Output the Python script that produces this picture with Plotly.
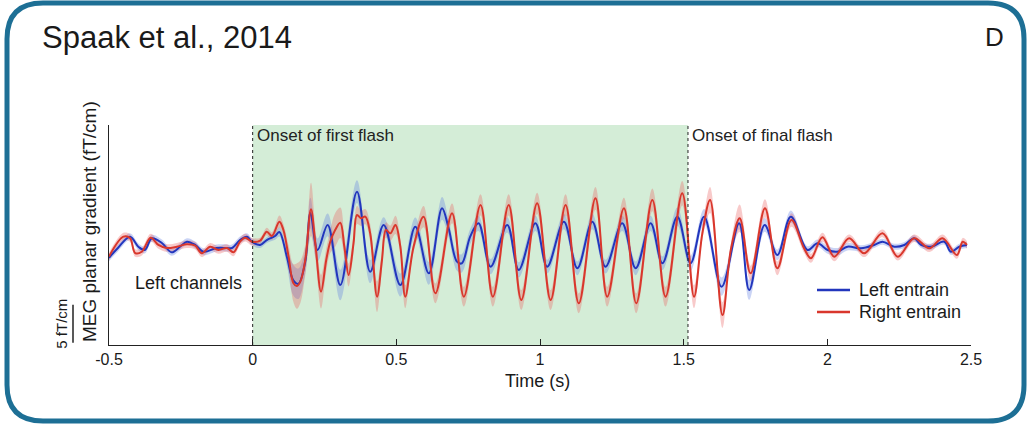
import plotly.graph_objects as go
import numpy as np

# ---------------- data (time in s, amplitude in fT/cm) ----------------
time_left = [-0.500, -0.469, -0.427, -0.398, -0.375, -0.351, -0.316, -0.282, -0.253, -0.229,
             -0.200, -0.171, -0.125, -0.090, -0.072, -0.044, -0.020, -0.003,
             0.026, 0.049, 0.078, 0.093, 0.119, 0.141, 0.159, 0.183, 0.201, 0.226,
             0.261, 0.305, 0.363, 0.409, 0.456, 0.514,
             0.566, 0.613, 0.659, 0.682, 0.711, 0.728, 0.757, 0.786, 0.828, 0.886,
             0.926, 0.984, 1.025, 1.083, 1.130, 1.182, 1.228, 1.286, 1.333, 1.385,
             1.426, 1.478, 1.524,
             1.571, 1.632, 1.693, 1.728, 1.782, 1.826, 1.873, 1.931, 1.966, 2.001,
             2.036, 2.070, 2.117, 2.163, 2.192, 2.233, 2.268, 2.302, 2.326, 2.361,
             2.407, 2.430, 2.459, 2.486]
left_mean = [-2.07, -0.79, 0.70, -0.62, -1.05, 0.49, -0.13, -1.36, -0.62, 0.04,
             -0.39, -1.28, -0.79, -0.79, -0.79, 0.26, 0.70, 0.04,
             -0.39, 0.26, 0.79, 1.32, -1.93, -5.00, -5.50, -2.60, 3.82, -1.05,
             2.24, -5.66, 6.62, -3.91, 2.24, -5.66,
             2.01, -4.12, 4.43, 1.80, -2.59, -2.80, 0.70, 2.46, -3.25, 2.24,
             -3.68, 2.46, -3.25, 2.67, -3.46, 2.67, -3.25, 2.46, -3.46, 2.46,
             -2.80, 3.33, -2.80,
             3.33, -5.88, 2.46, -6.32, 2.24, -1.71, 3.33, -1.05, -0.17, -1.05,
             -1.28, -0.62, -0.83, -0.39, 0.04, -0.62, -0.39, 0.49, -0.39, -0.62,
             0.04, -1.28, -0.62, -0.39]
left_sem = [0.45] * 18 + \
           [0.4, 0.4, 0.5, 0.6, 1.2, 2.0, 2.0, 1.5, 2.0, 1.5,
            1.5, 2.0, 1.5, 1.5, 1.0, 1.5] + \
           [1.2, 1.5, 1.5, 1.2, 1.2, 1.2, 1.0, 1.0, 1.0, 1.0,
            1.0, 1.0, 0.9, 1.0, 0.9, 1.0, 0.9, 1.0, 0.9, 1.0,
            0.9, 1.2, 1.0] + \
           [1.0, 1.2, 0.8, 1.3, 0.9, 0.7, 0.8, 0.5, 0.5, 0.5,
            0.5, 0.5, 0.4, 0.4, 0.4, 0.4, 0.4, 0.4, 0.4, 0.4,
            0.4, 0.4, 0.4, 0.4]

time_right = [-0.500, -0.450, -0.427, -0.409, -0.386, -0.355, -0.328, -0.299, -0.264, -0.229,
              -0.200, -0.177, -0.148, -0.119, -0.090, -0.067, -0.044, -0.026, -0.003,
              0.026, 0.049, 0.067, 0.093, 0.107, 0.125, 0.142, 0.154, 0.166, 0.183,
              0.203, 0.218, 0.238, 0.256, 0.270, 0.287, 0.305, 0.319, 0.334, 0.351,
              0.363, 0.377, 0.392, 0.409, 0.433, 0.450, 0.464, 0.479, 0.497, 0.514,
              0.531,
              0.560, 0.595, 0.636, 0.694, 0.735, 0.793, 0.836, 0.891, 0.935, 0.990,
              1.037, 1.089, 1.135, 1.193, 1.234, 1.292, 1.335, 1.391, 1.437, 1.495,
              1.536,
              1.565, 1.592, 1.635, 1.664, 1.695, 1.733, 1.783, 1.826, 1.875, 1.919,
              1.943, 1.983, 2.024, 2.076, 2.128, 2.192, 2.245, 2.302, 2.355, 2.401,
              2.451, 2.471, 2.486]
right_mean = [-1.90, 0.70, 0.53, -1.45, -1.28, 0.57, -0.39, -0.79, -0.62, -0.30,
              -0.49, -1.49, -0.62, -1.05, -0.79, -1.36, 0.04, 0.57, 0.04,
              0.17, 1.36, 0.79, 2.67, 1.58, -1.93, -5.43, -5.79, -5.22, -2.37,
              4.30, -0.17, -6.54, -2.37, 0.04, 1.58, 2.54, -0.62, -4.34, -0.17,
              3.55, 3.12, 3.33, 1.14, -7.20, -2.37, 1.58, 1.14, 2.24, -0.62,
              -7.20,
              -0.62, 3.33, -6.75, 3.78, -7.20, 4.87, -7.20, 4.87, -7.63, 5.09,
              -7.63, 4.87, -8.07, 5.75, -7.20, 4.43, -8.07, 5.53, -7.20, 6.41,
              -7.20,
              1.14, 5.53, -9.61, -1.05, 3.12, -4.12, 4.43, -3.46, 2.89, -0.83,
              -2.14, 0.62, -1.93, 0.49, -1.49, 1.14, -1.93, 0.49, -0.83, 0.49,
              -1.71, 0.04, -0.39]
right_sem = [0.5] * 19 + \
            [0.4, 0.5, 0.5, 0.8, 0.8, 1.5, 2.5, 3.0, 2.8, 2.0,
             3.5, 2.0, 2.2, 1.5, 1.5, 2.2, 2.0, 1.5, 1.5, 1.2,
             1.2, 1.0, 1.0, 1.2, 2.0, 1.2, 1.0, 1.0, 1.2, 1.0,
             1.5] + \
            [0.7, 1.4, 1.3, 1.3, 1.3, 1.4, 1.3, 1.4, 1.3, 1.4,
             1.3, 1.4, 1.3, 1.5, 1.3, 1.4, 1.3, 1.5, 1.3, 1.6,
             1.5] + \
            [0.8, 1.7, 1.7, 0.8, 1.8, 1.0, 1.2, 0.9, 0.9, 0.6,
             0.6, 0.6, 0.6, 0.5, 0.5, 0.5, 0.5, 0.5, 0.5, 0.5,
             0.5, 0.5, 0.5]

series_names = ["Left entrain", "Right entrain"]
first_flash = 0.0
final_flash = 1.515
x_ticks = [-0.5, 0, 0.5, 1, 1.5, 2, 2.5]
x_tick_labels = ["-0.5", "0", "0.5", "1", "1.5", "2", "2.5"]
scale_bar = 5  # fT/cm

x_range = [-0.5, 2.5]
y_range = [-13.55, 15.39]

W, H = 1030, 431
FONT = "Liberation Sans, Arial, Helvetica, sans-serif"
RED = "#d9372c"
BLUE = "#2236bd"
RED_BAND = "rgba(232,90,90,0.32)"
BLUE_BAND = "rgba(90,120,225,0.32)"
TXT = "#1a1a1a"

fig = go.Figure()


def add_band(t, m, s, band):
    t = np.array(t); m = np.array(m); s = np.array(s)
    fig.add_trace(go.Scatter(x=t, y=m - s, mode="lines", line=dict(width=0, shape="spline"),
                             showlegend=False, hoverinfo="skip"))
    fig.add_trace(go.Scatter(x=t, y=m + s, mode="lines", line=dict(width=0, shape="spline"),
                             fill="tonexty", fillcolor=band, showlegend=False, hoverinfo="skip"))


add_band(time_left, left_mean, left_sem, BLUE_BAND)
add_band(time_right, right_mean, right_sem, RED_BAND)
fig.add_trace(go.Scatter(x=time_left, y=left_mean, mode="lines", name=series_names[0],
                         showlegend=False, line=dict(color=BLUE, width=2, shape="spline")))
fig.add_trace(go.Scatter(x=time_right, y=right_mean, mode="lines", name=series_names[1],
                         showlegend=False, line=dict(color=RED, width=2, shape="spline")))

# green stimulation period + onset lines
fig.add_shape(type="rect", xref="x", yref="y domain", x0=first_flash, x1=final_flash, y0=0, y1=1,
              fillcolor="#d4edd7", line=dict(width=0), layer="below")
for xv in (first_flash, final_flash):
    fig.add_shape(type="line", xref="x", yref="y domain", x0=xv, x1=xv, y0=0, y1=1,
                  line=dict(color="#222222", width=1, dash="dot"))

# scale bar
fig.add_shape(type="line", xref="paper", yref="y", x0=73 / W, x1=73 / W,
              y0=y_range[0] + 0.3, y1=y_range[0] + 0.3 + scale_bar,
              line=dict(color="#222222", width=1.5))

# rounded frame
x0, x1 = 7 / W, 1024 / W
yT, yB = 1 - 3 / H, 1 - 421 / H
rx, ry = 36 / W, 36 / H
path = (f"M {x0+rx},{yT} L {x1-rx},{yT} Q {x1},{yT} {x1},{yT-ry} "
        f"L {x1},{yB+ry} Q {x1},{yB} {x1-rx},{yB} L {x0+rx},{yB} "
        f"Q {x0},{yB} {x0},{yB+ry} L {x0},{yT-ry} Q {x0},{yT} {x0+rx},{yT} Z")
fig.add_shape(type="path", xref="paper", yref="paper", path=path,
              line=dict(color="#1d6f95", width=5))

# manual legend
legend_rows = [(series_names[0], BLUE, 290), (series_names[1], RED, 312)]
ann = []
for name, col, py in legend_rows:
    fig.add_shape(type="line", xref="paper", yref="paper", x0=817 / W, x1=850 / W,
                  y0=1 - py / H, y1=1 - py / H, line=dict(color=col, width=2.5))
    ann.append(dict(text=name, x=857 / W, y=1 - py / H, xref="paper", yref="paper",
                    xanchor="left", yanchor="middle", font=dict(size=18, color=TXT)))

ann += [
    dict(text="Spaak et al., 2014", x=40 / W, y=1 - 38 / H, xref="paper", yref="paper",
         xanchor="left", yanchor="middle", font=dict(size=31, color=TXT)),
    dict(text="D", x=994 / W, y=1 - 37 / H, xref="paper", yref="paper",
         xanchor="center", yanchor="middle", font=dict(size=26, color=TXT)),
    dict(text="Onset of first flash", x=first_flash + 0.008, y=13.95, xref="x", yref="y",
         xanchor="left", yanchor="middle", font=dict(size=17, color="#222222")),
    dict(text="Onset of final flash", x=final_flash + 0.008, y=13.95, xref="x", yref="y",
         xanchor="left", yanchor="middle", font=dict(size=17, color="#222222")),
    dict(text="Left channels", x=-0.416, y=-5.4, xref="x", yref="y",
         xanchor="left", yanchor="middle", font=dict(size=18, color=TXT)),
    dict(text="MEG planar gradient (fT/cm)", x=90 / W, y=1 - 222 / H, xref="paper", yref="paper",
         xanchor="center", yanchor="middle", textangle=-90, font=dict(size=19, color=TXT)),
    dict(text="5 fT/cm", x=62 / W, y=y_range[0] + 0.3 + scale_bar / 2, xref="paper", yref="y",
         xanchor="center", yanchor="middle", textangle=-90, font=dict(size=15, color=TXT)),
    dict(text="Time (s)", x=537 / W, y=1 - 381 / H, xref="paper", yref="paper",
         xanchor="center", yanchor="middle", font=dict(size=18, color=TXT)),
]
for a in ann:
    a["showarrow"] = False

fig.update_layout(
    width=W, height=H, margin=dict(l=0, r=0, t=0, b=0, autoexpand=False),
    paper_bgcolor="white", plot_bgcolor="rgba(0,0,0,0)",
    font=dict(family=FONT, color=TXT),
    annotations=ann,
    showlegend=False,
    xaxis=dict(domain=[109 / W, 971 / W], range=x_range, showgrid=False, zeroline=False,
               showline=True, linecolor="#222222", linewidth=1, ticks="inside", ticklen=6,
               tickcolor="#222222", tickvals=x_ticks, ticktext=x_tick_labels,
               tickfont=dict(size=16, color=TXT), automargin=False),
    yaxis=dict(domain=[1 - 345 / H, 1 - 125 / H], range=y_range, showgrid=False, zeroline=False,
               showline=True, linecolor="#222222", linewidth=1, showticklabels=False, ticks="",
               automargin=False),
)

fig.write_html("out.html")
